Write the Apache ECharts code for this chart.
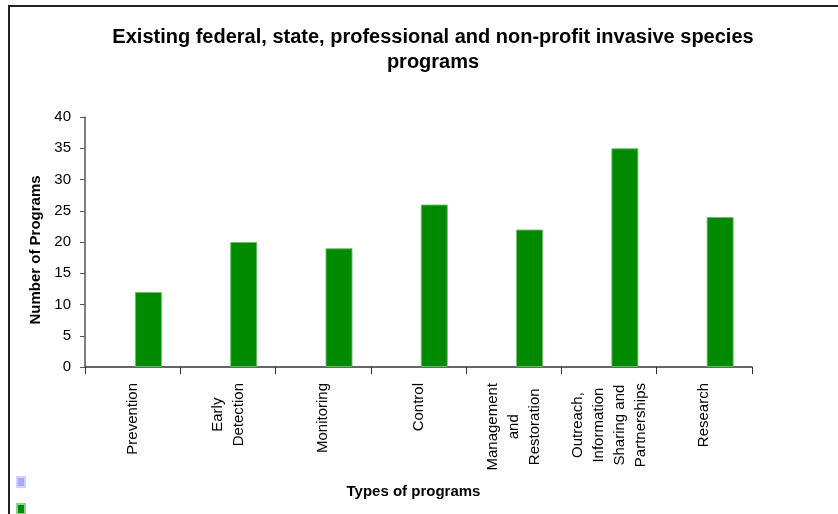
<!DOCTYPE html>
<html>
<head>
<meta charset="utf-8">
<script src="https://cdn.jsdelivr.net/npm/echarts@6/dist/echarts.min.js"></script>
<style>
  html, body { margin: 0; padding: 0; background: #fff; }
  #chart { width: 838px; height: 514px; }
</style>
</head>
<body>
<div id="chart"></div>
<script>
// Program categories (line breaks as shown under the axis)
const categories = [
  'Prevention',
  'Early\nDetection',
  'Monitoring',
  'Control',
  'Management\nand\nRestoration',
  'Outreach,\nInformation\nSharing and\nPartnerships',
  'Research'
];
// Number of existing programs per category
const programCounts = [12, 20, 19, 26, 22, 35, 24];
// Second legend series carries no values
const emptySeries = [null, null, null, null, null, null, null];
// Value axis ticks
const yMin = 0, yMax = 40, yStep = 5;

const FONT = '"Liberation Sans", Arial, sans-serif';
const GREEN = '#008a00';

const chart = echarts.init(document.getElementById('chart'), null, { renderer: 'canvas' });

// Legend keys without text, stacked in the lower-left corner
function legendKey(name, top, itemStyle) {
  return {
    orient: 'vertical',
    left: 16,
    top: top,
    padding: 0,
    itemWidth: 8,
    itemHeight: 10,
    formatter: function () { return ''; },
    textStyle: { fontSize: 8, lineHeight: 8 },
    selectedMode: false,
    data: [{ name: name, icon: 'rect', itemStyle: itemStyle }]
  };
}

chart.setOption({
  animation: false,
  backgroundColor: '#fff',
  title: {
    text: 'Existing federal, state, professional and non-profit invasive species\nprograms',
    left: 428,
    top: 20,
    textAlign: 'center',
    textStyle: { fontFamily: FONT, fontSize: 20, fontWeight: 'bold', color: '#000', lineHeight: 25 }
  },
  legend: [
    legendKey('Series A', 476, { color: '#a8a8ff', borderColor: '#cfcfff', borderWidth: 2 }),
    legendKey('Series B', 503, { color: GREEN, borderColor: '#8fd08f', borderWidth: 2 })
  ],
  graphic: [
    {
      type: 'rect',
      shape: { x: 9, y: 6, width: 1000, height: 1000 },
      style: { fill: 'none', stroke: '#222', lineWidth: 2 },
      silent: true
    }
  ],
  grid: {
    left: 85,
    right: 86,
    top: 117,
    bottom: 147,
    containLabel: false,
    outerBoundsMode: 'none'
  },
  xAxis: {
    type: 'category',
    data: categories,
    name: 'Types of programs',
    nameLocation: 'middle',
    nameGap: 117,
    nameTextStyle: { fontFamily: FONT, fontSize: 15, fontWeight: 'bold', color: '#000', padding: [0, 10, 0, 0] },
    axisLine: { show: true, lineStyle: { color: '#333', width: 1.5 } },
    axisTick: { show: true, length: 7, interval: 0, lineStyle: { color: '#333' } },
    axisLabel: {
      interval: 0,
      rotate: 90,
      margin: 16,
      fontFamily: FONT,
      fontSize: 15,
      color: '#000',
      lineHeight: 21,
      formatter: function (v) {
        return v.split('\n').map(function (s) { return '{c|' + s + '}'; }).join('\n');
      },
      rich: { c: { align: 'center', fontFamily: FONT, fontSize: 15, lineHeight: 21, color: '#000' } }
    },
    splitLine: { show: false }
  },
  yAxis: {
    type: 'value',
    min: yMin,
    max: yMax,
    interval: yStep,
    name: 'Number of Programs',
    nameLocation: 'middle',
    nameGap: 42,
    nameTextStyle: { fontFamily: FONT, fontSize: 15, fontWeight: 'bold', color: '#000', padding: [0, 16, 0, 0] },
    axisLine: { show: true, lineStyle: { color: '#555', width: 1.5 } },
    axisTick: { show: true, length: 5, lineStyle: { color: '#555' } },
    axisLabel: { margin: 14, fontFamily: FONT, fontSize: 15, color: '#000' },
    splitLine: { show: false }
  },
  series: [
    {
      name: 'Series A',
      type: 'bar',
      data: emptySeries,
      barWidth: 27,
      barGap: '17%',
      itemStyle: { color: '#a8a8ff' }
    },
    {
      name: 'Series B',
      type: 'bar',
      data: programCounts,
      barWidth: 27,
      barGap: '17%',
      itemStyle: { color: GREEN, borderColor: 'rgba(110,190,110,0.9)', borderWidth: 1 }
    }
  ]
});
</script>
</body>
</html>
